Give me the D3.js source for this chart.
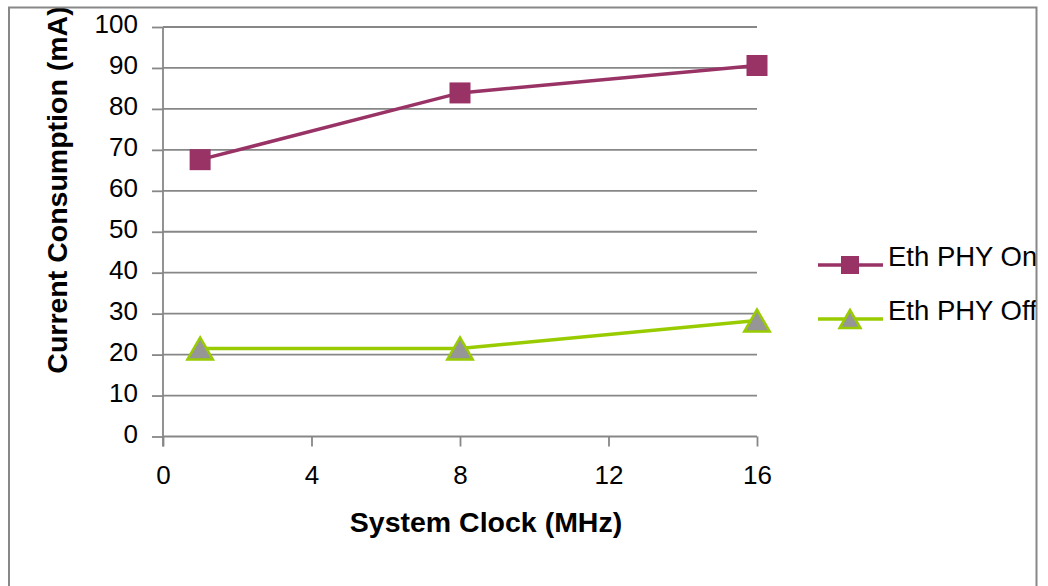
<!DOCTYPE html>
<html>
<head>
<meta charset="utf-8">
<script src="https://cdn.jsdelivr.net/npm/d3@7"></script>
<style>
  html, body { margin: 0; padding: 0; background: #fff; }
  svg { display: block; font-family: "Liberation Sans", Arial, sans-serif; }
</style>
</head>
<body>
<svg id="chart" width="1048" height="586"></svg>
<script>
const xValues = [1, 8, 16];
const ethOn = [67.6, 83.9, 90.6];
const ethOff = [21.5, 21.5, 28.3];
const seriesNames = ["Eth PHY On", "Eth PHY Off"];
const xTicks = [0, 4, 8, 12, 16];
const yTicks = [0, 10, 20, 30, 40, 50, 60, 70, 80, 90, 100];
const xTitle = "System Clock (MHz)";
const yTitle = "Current Consumption (mA)";

const svg = d3.select("#chart");
const gridColor = "#878787";
const onColor = "#993366";
const offColor = "#99cc00";

svg.append("defs").append("clipPath").attr("id", "legclip")
  .append("rect").attr("x", 0).attr("y", 0).attr("width", 1036).attr("height", 586);

const x = d3.scaleLinear().domain([0, 16]).range([163, 757]);
const y = d3.scaleLinear().domain([0, 100]).range([436.5, 27]);

// gridlines
svg.append("g").selectAll("line").data(yTicks).join("line")
  .attr("x1", x(0)).attr("x2", x(16))
  .attr("y1", d => y(d)).attr("y2", d => y(d))
  .attr("stroke", gridColor).attr("stroke-width", 1.8);

// y axis
const yAxis = svg.append("g").attr("transform", `translate(${x(0)},0)`)
  .call(d3.axisLeft(y).tickValues(yTicks).tickSize(11).tickPadding(14).tickSizeOuter(0));
yAxis.select(".domain").remove();
yAxis.append("line").attr("x1", 0).attr("x2", 0).attr("y1", y(100)).attr("y2", y(0) + 10)
  .attr("stroke", gridColor).attr("stroke-width", 1.8);
yAxis.selectAll(".tick line").attr("stroke", gridColor).attr("stroke-width", 1.8);
yAxis.selectAll(".tick text").attr("font-size", 26).attr("fill", "#000")
  .attr("font-family", "Liberation Sans, Arial, sans-serif").attr("dy", "0.22em");

// x axis
const xAxis = svg.append("g").attr("transform", `translate(0,${y(0)})`)
  .call(d3.axisBottom(x).tickValues(xTicks).tickSize(10).tickPadding(19).tickSizeOuter(0));
xAxis.select(".domain").remove();
xAxis.selectAll(".tick line").attr("stroke", gridColor).attr("stroke-width", 1.8);
xAxis.selectAll(".tick text").attr("font-size", 26).attr("fill", "#000")
  .attr("font-family", "Liberation Sans, Arial, sans-serif");

// titles
svg.append("text").attr("x", 486).attr("y", 532).attr("text-anchor", "middle")
  .attr("font-size", 28.5).attr("font-weight", "bold").text(xTitle);
svg.append("text").attr("transform", "translate(67,190) rotate(-90)").attr("text-anchor", "middle")
  .attr("font-size", 28.5).attr("font-weight", "bold").text(yTitle);

const line = d3.line().x(d => x(d[0])).y(d => y(d[1]));
const onPts = xValues.map((v, i) => [v, ethOn[i]]);
const offPts = xValues.map((v, i) => [v, ethOff[i]]);

const tri = s => `M0,${-s/2} L${s*0.58},${s/2} L${-s*0.58},${s/2} Z`;

// series On
svg.append("path").datum(onPts).attr("d", line).attr("fill", "none")
  .attr("stroke", onColor).attr("stroke-width", 3.5);
svg.append("g").selectAll("rect").data(onPts).join("rect")
  .attr("x", d => x(d[0]) - 10.5).attr("y", d => y(d[1]) - 10.5)
  .attr("width", 21).attr("height", 21).attr("fill", onColor);

// series Off
svg.append("path").datum(offPts).attr("d", line).attr("fill", "none")
  .attr("stroke", offColor).attr("stroke-width", 3.5);
svg.append("g").selectAll("path").data(offPts).join("path")
  .attr("transform", d => `translate(${x(d[0])},${y(d[1])})`)
  .attr("d", tri(22)).attr("fill", "#969696").attr("stroke", offColor).attr("stroke-width", 2.5);

// legend
const leg = svg.append("g").attr("clip-path", "url(#legclip)");
const legY = [265, 319];
leg.append("line").attr("x1", 818).attr("x2", 883).attr("y1", legY[0]).attr("y2", legY[0])
  .attr("stroke", onColor).attr("stroke-width", 3.5);
leg.append("rect").attr("x", 841).attr("y", legY[0] - 9).attr("width", 18).attr("height", 18).attr("fill", onColor);
leg.append("line").attr("x1", 818).attr("x2", 883).attr("y1", legY[1]).attr("y2", legY[1])
  .attr("stroke", offColor).attr("stroke-width", 3.5);
leg.append("path").attr("transform", `translate(850,${legY[1]})`).attr("d", tri(18))
  .attr("fill", "#969696").attr("stroke", offColor).attr("stroke-width", 2.5);
leg.selectAll("text.lt").data(seriesNames).join("text").attr("class", "lt")
  .attr("x", 888).attr("y", (d, i) => legY[i] + 1).attr("font-size", 27.5).attr("fill", "#000").text(d => d);

// outer border
svg.append("rect").attr("x", 9).attr("y", 7.5).attr("width", 1027.5).attr("height", 600)
  .attr("fill", "none").attr("stroke", "#888").attr("stroke-width", 2);
</script>
</body>
</html>
